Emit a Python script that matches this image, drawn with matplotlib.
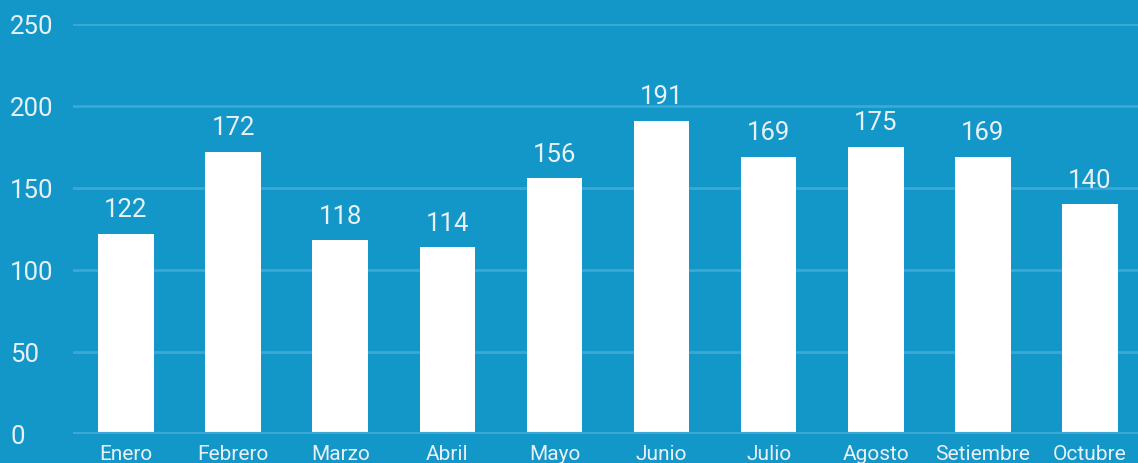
import matplotlib
matplotlib.use("Agg")
import matplotlib.pyplot as plt

months = ["Enero", "Febrero", "Marzo", "Abril", "Mayo", "Junio", "Julio",
          "Agosto", "Setiembre", "Octubre"]
values = [122, 172, 118, 114, 156, 191, 169, 175, 169, 140]
yticks = [0, 50, 100, 150, 200, 250]

BG = "#1396c8"
GRID = "#3ba8d6"
TXT = "#e8f1f6"

plt.rcParams['font.family'] = ['Roboto', 'DejaVu Sans']

W, H = 1138, 464
fig = plt.figure(figsize=(W / 100, H / 100), dpi=100, facecolor=BG)
left_px, right_px = 72.5, 1143.5
top_px, bot_px = 25, 435
ax = fig.add_axes([left_px / W, 1 - bot_px / H, (right_px - left_px) / W, (bot_px - top_px) / H])
ax.set_facecolor(BG)

x = list(range(len(months)))
bars = ax.bar(x, values, width=0.52, color="white", zorder=3)
for xi, v in zip(x, values):
    ax.annotate(str(v), (xi, v), xytext=(0, 9), textcoords="offset points",
                ha="center", va="bottom", color=TXT, fontsize=18.5)

ax.set_xlim(-0.5, len(months) - 0.5)
ax.set_ylim(0, 250)
ax.set_yticks(yticks)
ax.set_yticklabels([str(t) for t in yticks])
ax.set_xticks(x)
ax.set_xticklabels(months)
for s in ax.spines.values():
    s.set_visible(False)
ax.grid(axis="y", color=GRID, linewidth=2, zorder=1)
ax.axhline(0, color=GRID, linewidth=3, zorder=4)
ax.tick_params(axis="y", length=0, pad=45, labelsize=18.5, labelcolor=TXT)
ax.tick_params(axis="x", length=0, pad=7, labelsize=15, labelcolor=TXT)
for lab in ax.get_yticklabels():
    lab.set_horizontalalignment("left")

fig.savefig("out.png", dpi=100, facecolor=BG)
